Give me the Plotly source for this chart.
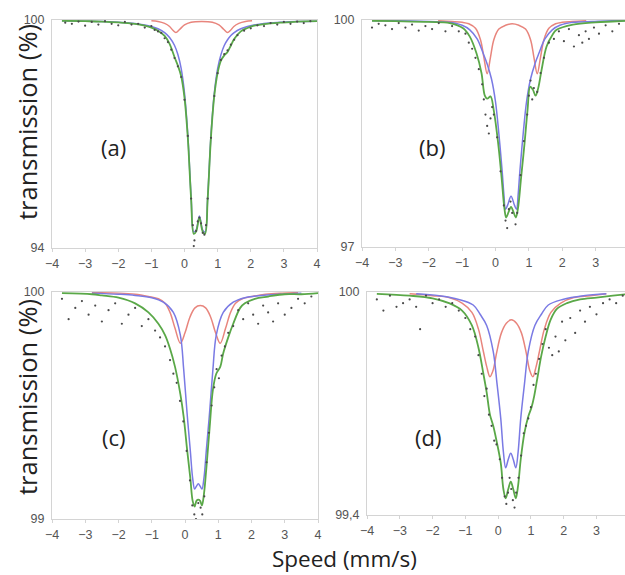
import plotly.graph_objects as go

# ---------------- data ----------------
# Panel (a)
A_FIT_X = [-3.7, -3, -2.5, -2, -1.5, -1.2, -1.0, -0.8, -0.6, -0.45, -0.3, -0.2, -0.1, 0, 0.1, 0.2, 0.28, 0.35, 0.45,
           0.55, 0.62, 0.7, 0.8, 0.9, 1.0, 1.1, 1.2, 1.3, 1.4, 1.5, 1.7, 1.9, 2.1, 2.4, 2.9, 3.4, 4]
A_GREEN = [99.98, 99.97, 99.96, 99.94, 99.90, 99.85, 99.80, 99.72, 99.58, 99.37, 99.02, 98.80, 98.52, 97.95, 96.90,
           95.29, 94.37, 94.43, 94.80, 94.43, 94.38, 95.30, 96.93, 98.01, 98.61, 98.93, 99.07, 99.16, 99.33, 99.50,
           99.70, 99.79, 99.85, 99.89, 99.93, 99.96, 99.97]
A_BLUE = [99.98, 99.97, 99.96, 99.94, 99.91, 99.87, 99.83, 99.77, 99.67, 99.54, 99.33, 99.09, 98.72, 98.08, 96.98,
          95.35, 94.42, 94.47, 94.84, 94.47, 94.42, 95.35, 96.98, 98.08, 98.72, 99.09, 99.33, 99.48, 99.59, 99.67,
          99.77, 99.83, 99.87, 99.91, 99.94, 99.96, 99.97]
A_RED_X = [-1.0, -0.8, -0.6, -0.45, -0.35, -0.26, -0.15, 0.0, 0.2, 0.52, 0.84, 1.04, 1.19, 1.30, 1.39, 1.49, 1.64,
           1.84, 2.04]
A_RED = [99.98, 99.96, 99.91, 99.83, 99.73, 99.67, 99.75, 99.87, 99.94, 99.96, 99.94, 99.87, 99.75, 99.67, 99.73,
         99.83, 99.91, 99.96, 99.98]
A_DOT_X = [-3.6, -3.4, -3.2, -3.0, -2.8, -2.6, -2.4, -2.2, -2.0, -1.8, -1.6, -1.4, -1.2, -1.0, -0.9, -0.8, -0.7, -0.6,
           -0.5, -0.4, -0.3, -0.2, -0.1, 0.0, 0.1, 0.2, 0.25, 0.28, 0.3, 0.35, 0.4, 0.45, 0.5, 0.55, 0.6, 0.65, 0.7,
           0.8, 0.9, 1.0, 1.1, 1.2, 1.3, 1.4, 1.5, 1.6, 1.8, 2.0, 2.2, 2.4, 2.6, 2.8, 3.0, 3.2, 3.4, 3.6, 3.8]
A_DOT_Y = [99.93, 99.9, 99.96, 99.85, 99.95, 99.88, 99.97, 99.9, 99.86, 99.95, 99.88, 99.9, 99.8, 99.84, 99.74, 99.7,
           99.66, 99.52, 99.42, 99.22, 99.0, 98.78, 98.5, 97.9, 96.95, 95.3, 94.6, 94.05, 94.2, 94.45, 94.7, 94.8,
           94.65, 94.4, 94.35, 94.6, 95.3, 96.9, 98.0, 98.6, 98.95, 99.1, 99.2, 99.35, 99.48, 99.6, 99.72, 99.78,
           99.86, 99.84, 99.92, 99.88, 99.95, 99.9, 99.96, 99.92, 99.97]

# Panel (b)
B_FIT_X = [-3.7, -3, -2, -1.37, -0.97, -0.77, -0.57, -0.42, -0.32, -0.25, -0.15, -0.05, 0.08, 0.18, 0.27, 0.32, 0.39,
           0.465, 0.54, 0.61, 0.67, 0.77, 0.87, 0.96, 1.04, 1.12, 1.2, 1.28, 1.38, 1.53, 1.7, 1.83, 2.32, 3, 3.5, 4]
B_GREEN = [99.99, 99.985, 99.975, 99.96, 99.89, 99.78, 99.56, 99.30, 99.0, 98.96, 98.99, 98.8, 98.37, 97.93, 97.5,
           97.39, 97.46, 97.53, 97.46, 97.39, 97.5, 97.93, 98.37, 98.81, 99.12, 99.08, 99.0, 99.1, 99.34, 99.65, 99.8,
           99.87, 99.94, 99.97, 99.98, 99.99]
B_BLUE_X = [-3.7, -3, -2, -1.4, -1.0, -0.77, -0.55, -0.37, -0.25, -0.12, 0.0, 0.1, 0.2, 0.25, 0.3, 0.36, 0.465, 0.57,
            0.63, 0.68, 0.73, 0.83, 0.93, 1.05, 1.18, 1.3, 1.48, 1.7, 1.93, 2.33, 2.9, 3.5, 4]
B_BLUE = [99.99, 99.99, 99.98, 99.97, 99.93, 99.87, 99.75, 99.56, 99.42, 99.22, 98.92, 98.5, 98.0, 97.7, 97.5, 97.55,
          97.67, 97.55, 97.5, 97.7, 98.0, 98.5, 98.92, 99.22, 99.42, 99.56, 99.75, 99.87, 99.93, 99.97, 99.98, 99.99,
          99.99]
B_RED_X = [-1.72, -1.3, -1.0, -0.8, -0.6, -0.45, -0.35, -0.25, -0.15, -0.05, 0.1, 0.3, 0.5, 0.7, 0.9, 1.05, 1.15,
           1.25, 1.35, 1.45, 1.6, 1.8, 2.0, 2.3, 2.72]
B_RED = [99.99, 99.98, 99.97, 99.95, 99.89, 99.74, 99.51, 99.29, 99.51, 99.74, 99.88, 99.93, 99.95, 99.93, 99.88,
         99.74, 99.51, 99.29, 99.51, 99.74, 99.89, 99.95, 99.97, 99.98, 99.99]
B_DOT_X = [-3.7, -3.5, -3.3, -3.1, -2.9, -2.7, -2.5, -2.3, -2.1, -1.9, -1.7, -1.5, -1.3, -1.1, -0.9, -0.8, -0.7, -0.6,
           -0.5, -0.4, -0.35, -0.3, -0.25, -0.2, -0.15, -0.1, -0.05, 0.05, 0.15, 0.25, 0.3, 0.35, 0.4, 0.45, 0.5, 0.6,
           0.65, 0.75, 0.85, 0.95, 1.0, 1.05, 1.1, 1.15, 1.25, 1.35, 1.45, 1.6, 1.75, 1.9, 2.05, 2.2, 2.35, 2.5, 2.6,
           2.7, 2.8, 2.95, 3.1, 3.3, 3.5, 3.7]
B_DOT_Y = [99.9, 99.95, 99.93, 99.88, 99.96, 99.9, 99.94, 99.86, 99.92, 99.88, 99.96, 99.85, 99.92, 99.85, 99.82,
           99.7, 99.62, 99.5, 99.35, 99.15, 98.95, 98.75, 98.6, 98.5, 98.7, 98.85, 98.75, 98.45, 98.0, 97.55, 97.35,
           97.25, 97.5, 97.6, 97.45, 97.3, 97.45, 97.95, 98.4, 98.75, 99.0, 99.2, 98.95, 99.1, 99.05, 99.3, 99.5, 99.7,
           99.75, 99.85, 99.72, 99.88, 99.65, 99.8, 99.7, 99.85, 99.75, 99.9, 99.82, 99.93, 99.85, 99.95]

# Panel (c)
C_FIT_X = [-3.7, -2.8, -2.5, -2, -1.5, -1.1, -0.8, -0.6, -0.45, -0.3, -0.14, -0.04, 0.06, 0.16, 0.23, 0.29, 0.345,
           0.40, 0.455, 0.51, 0.57, 0.64, 0.74, 0.84, 0.94, 1.06, 1.15, 1.3, 1.45, 1.66, 1.8, 2.1, 2.5, 3, 3.5, 4]
C_GREEN = [99.995, 99.99, 99.985, 99.975, 99.95, 99.91, 99.86, 99.81, 99.75, 99.67, 99.55, 99.45, 99.31, 99.18,
           99.08, 99.055, 99.08, 99.085, 99.08, 99.06, 99.11, 99.22, 99.40, 99.57, 99.64, 99.67, 99.73, 99.80, 99.86,
           99.93, 99.95, 99.97, 99.98, 99.99, 99.99, 99.995]
C_BLUE_X = [-2.8, -2.0, -1.5, -1.0, -0.65, -0.35, -0.14, -0.04, 0.06, 0.16, 0.23, 0.29, 0.345, 0.40, 0.455, 0.51,
            0.57, 0.64, 0.74, 0.84, 0.94, 1.15, 1.45, 1.8, 2.3, 2.8, 3.5]
C_BLUE = [99.995, 99.99, 99.985, 99.975, 99.955, 99.91, 99.81, 99.66, 99.47, 99.30, 99.18, 99.132, 99.145, 99.155,
          99.145, 99.132, 99.18, 99.30, 99.47, 99.66, 99.81, 99.91, 99.955, 99.975, 99.985, 99.99, 99.995]
C_RED_X = [-2.8, -2.0, -1.5, -1.1, -0.8, -0.6, -0.45, -0.3, -0.14, 0.0, 0.15, 0.3, 0.46, 0.62, 0.77, 0.92, 1.06,
           1.22, 1.37, 1.52, 1.72, 2.02, 2.42, 2.92, 3.4]
C_RED = [99.997, 99.995, 99.99, 99.98, 99.97, 99.95, 99.91, 99.84, 99.774, 99.82, 99.89, 99.93, 99.94, 99.93, 99.89,
         99.82, 99.774, 99.84, 99.91, 99.95, 99.97, 99.98, 99.99, 99.995, 99.997]
C_DOT_X = [-3.7, -3.5, -3.3, -3.1, -2.9, -2.7, -2.5, -2.3, -2.1, -1.9, -1.7, -1.5, -1.3, -1.1, -0.9, -0.75, -0.6,
           -0.45, -0.35, -0.25, -0.15, -0.05, 0.05, 0.15, 0.22, 0.28, 0.33, 0.4, 0.47, 0.52, 0.58, 0.65, 0.72, 0.8,
           0.88, 0.95, 1.02, 1.1, 1.2, 1.3, 1.45, 1.6, 1.75, 1.9, 2.05, 2.2, 2.35, 2.5, 2.65, 2.8, 3.0, 3.2, 3.4, 3.6,
           3.8]
C_DOT_Y = [99.97, 99.88, 99.93, 99.96, 99.9, 99.94, 99.87, 99.92, 99.95, 99.86, 99.9, 99.93, 99.85, 99.88, 99.83,
           99.8, 99.76, 99.7, 99.64, 99.6, 99.52, 99.43, 99.3, 99.17, 99.06, 99.02, 99.0, 99.07, 99.05, 99.02, 99.1,
           99.25, 99.38, 99.5, 99.58, 99.66, 99.62, 99.72, 99.76, 99.82, 99.85, 99.92, 99.88, 99.95, 99.9, 99.86,
           99.94, 99.91, 99.87, 99.95, 99.9, 99.93, 99.97, 99.95, 99.98]

# Panel (d)
D_FIT_X = [-3.7, -2.7, -2, -1.5, -1.1, -0.8, -0.6, -0.45, -0.35, -0.25, -0.15, -0.05, 0.08, 0.16, 0.23, 0.31, 0.385,
           0.46, 0.54, 0.61, 0.69, 0.8, 0.92, 1.02, 1.1, 1.2, 1.32, 1.45, 1.6, 1.8, 2.1, 2.5, 3, 3.5, 4]
D_GREEN = [99.995, 99.99, 99.983, 99.97, 99.95, 99.91, 99.85, 99.78, 99.73, 99.67, 99.64, 99.6, 99.54, 99.47, 99.445,
           99.47, 99.49, 99.47, 99.445, 99.48, 99.55, 99.62, 99.665, 99.69, 99.72, 99.77, 99.83, 99.88, 99.925,
           99.955, 99.97, 99.98, 99.985, 99.99, 99.995]
D_BLUE_X = [-2.5, -1.8, -1.2, -0.76, -0.55, -0.35, -0.15, -0.03, 0.08, 0.16, 0.23, 0.31, 0.385, 0.46, 0.54, 0.61,
            0.69, 0.80, 0.92, 1.12, 1.32, 1.53, 1.97, 2.6, 3.3]
D_BLUE = [99.995, 99.99, 99.98, 99.965, 99.94, 99.91, 99.84, 99.75, 99.66, 99.57, 99.527, 99.55, 99.566, 99.55,
          99.527, 99.57, 99.66, 99.75, 99.84, 99.91, 99.94, 99.965, 99.98, 99.99, 99.995]
D_RED_X = [-2.7, -2.0, -1.5, -1.1, -0.8, -0.6, -0.45, -0.35, -0.25, -0.15, -0.05, 0.1, 0.25, 0.405, 0.56, 0.71, 0.86,
           0.96, 1.06, 1.16, 1.26, 1.41, 1.61, 1.91, 2.31, 2.81, 3.3]
D_RED = [99.995, 99.99, 99.985, 99.97, 99.945, 99.9, 99.84, 99.8, 99.772, 99.79, 99.835, 99.89, 99.916, 99.925,
         99.916, 99.89, 99.835, 99.79, 99.772, 99.8, 99.84, 99.9, 99.945, 99.97, 99.985, 99.99, 99.995]
D_DOT_X = [-3.7, -3.5, -3.3, -3.1, -2.9, -2.7, -2.5, -2.38, -2.2, -2.0, -1.8, -1.6, -1.4, -1.2, -1.0, -0.85, -0.7,
           -0.6, -0.5, -0.42, -0.35, -0.28, -0.2, -0.12, -0.05, 0.05, 0.12, 0.2, 0.25, 0.3, 0.35, 0.4, 0.45, 0.5, 0.55,
           0.62, 0.7, 0.78, 0.85, 0.92, 1.0, 1.08, 1.15, 1.25, 1.35, 1.45, 1.55, 1.65, 1.75, 1.85, 1.95, 2.05, 2.2,
           2.35, 2.5, 2.65, 2.8, 3.0, 3.2, 3.4, 3.6, 3.8]
D_DOT_Y = [99.98, 99.95, 99.99, 99.96, 99.97, 99.98, 99.96, 99.9, 99.99, 99.97, 99.98, 99.96, 99.97, 99.95, 99.93,
           99.9, 99.88, 99.83, 99.78, 99.72, 99.74, 99.67, 99.64, 99.6, 99.59, 99.55, 99.5, 99.45, 99.43, 99.46, 99.5,
           99.47, 99.44, 99.42, 99.46, 99.5, 99.56, 99.62, 99.64, 99.66, 99.69, 99.75, 99.78, 99.82, 99.86, 99.9,
           99.85, 99.83, 99.88, 99.84, 99.92, 99.87, 99.93, 99.89, 99.95, 99.92, 99.96, 99.94, 99.97, 99.98, 99.97,
           99.99]

X_TICKS = [-4, -3, -2, -1, 0, 1, 2, 3, 4]
PANEL_LABELS = ["(a)", "(b)", "(c)", "(d)"]
Y_RANGES = [[94, 100], [97, 100], [99, 100], [99.4, 100]]
Y_TICKTEXT = [["94", "100"], ["97", "100"], ["99", "100"], ["99,4", "100"]]
Y_TITLE = "transmission (%)"
X_TITLE = "Speed (mm/s)"

# ---------------- figure ----------------
GREEN = "#5aa848"
BLUE = "#7a7ae4"
RED = "#e8857d"
DOT = "#4a4a4a"
AXC = "#d4d4d4"
TICKFONT = dict(family="Liberation Sans Narrow, Liberation Sans, Arial", size=12.5, color="#555555")

panels = [
    (A_FIT_X, A_GREEN, A_FIT_X, A_BLUE, A_RED_X, A_RED, A_DOT_X, A_DOT_Y),
    (B_FIT_X, B_GREEN, B_BLUE_X, B_BLUE, B_RED_X, B_RED, B_DOT_X, B_DOT_Y),
    (C_FIT_X, C_GREEN, C_BLUE_X, C_BLUE, C_RED_X, C_RED, C_DOT_X, C_DOT_Y),
    (D_FIT_X, D_GREEN, D_BLUE_X, D_BLUE, D_RED_X, D_RED, D_DOT_X, D_DOT_Y),
]

# layout geometry (paper fractions)
X_DOMAINS = [[0.0832, 0.5072], [0.5792, 1.0], [0.0832, 0.5088], [0.5872, 1.0]]
Y_DOMAINS = [[0.5687, 0.9652], [0.5704, 0.9652], [0.0974, 0.4922], [0.1043, 0.4922]]
X_RANGES = [[-4, 4], [-4, 3.88], [-4, 4], [-4, 3.87]]
LABEL_POS = [(-2.13, 96.66), (-1.9, 98.32), (-2.15, 99.36), (-2.14, 99.61)]

fig = go.Figure()
layout = dict(
    width=625, height=575, margin=dict(l=0, r=0, t=0, b=0, pad=0, autoexpand=False),
    paper_bgcolor="white", plot_bgcolor="white", showlegend=False,
    annotations=[],
)

for i, (fx, g, bx, b, rx, r, dx, dy) in enumerate(panels):
    sfx = "" if i == 0 else str(i + 1)
    xa, ya = "x" + sfx, "y" + sfx
    fig.add_trace(go.Scatter(x=rx, y=r, mode="lines", line=dict(color=RED, width=1.5, shape="spline"),
                             xaxis=xa, yaxis=ya, hoverinfo="skip"))
    fig.add_trace(go.Scatter(x=bx, y=b, mode="lines", line=dict(color=BLUE, width=1.5, shape="spline"),
                             xaxis=xa, yaxis=ya, hoverinfo="skip"))
    fig.add_trace(go.Scatter(x=fx, y=g, mode="lines", line=dict(color=GREEN, width=1.8, shape="spline"),
                             xaxis=xa, yaxis=ya, hoverinfo="skip"))
    fig.add_trace(go.Scatter(x=dx, y=dy, mode="markers", marker=dict(color=DOT, size=2.2),
                             xaxis=xa, yaxis=ya, hoverinfo="skip", cliponaxis=False))
    right_cut = i in (1, 3)
    layout["xaxis" + sfx] = dict(
        domain=X_DOMAINS[i], range=X_RANGES[i], anchor=ya, tickvals=X_TICKS, automargin=False,
        showline=True, linecolor=AXC, linewidth=1, mirror=True,
        ticks="outside", ticklen=3, tickcolor=AXC, tickfont=TICKFONT, ticklabelstandoff=1,
        showgrid=False, zeroline=False, fixedrange=True,
    )
    layout["yaxis" + sfx] = dict(
        domain=Y_DOMAINS[i], range=Y_RANGES[i], anchor=xa, automargin=False,
        tickvals=Y_RANGES[i], ticktext=Y_TICKTEXT[i],
        showline=True, linecolor=AXC, linewidth=1, mirror=not right_cut,
        ticks="", tickfont=TICKFONT, ticklabelstandoff=4,
        showgrid=False, zeroline=False, fixedrange=True,
    )
    layout["annotations"].append(dict(
        x=LABEL_POS[i][0], y=LABEL_POS[i][1], xref=xa, yref=ya, text=PANEL_LABELS[i], showarrow=False,
        font=dict(family="Open Sans, Arial", size=22, color="#222222"), xanchor="center", yanchor="middle",
    ))

# axis titles
for ycen in (122, 397):
    layout["annotations"].append(dict(
        x=27 / 625, y=1 - ycen / 575, xref="paper", yref="paper", text=Y_TITLE, showarrow=False, textangle=-90,
        font=dict(family="Open Sans, Arial", size=25.5, color="#222222"), xanchor="center", yanchor="middle",
    ))
layout["annotations"].append(dict(
    x=344 / 625, y=1 - 558.5 / 575, xref="paper", yref="paper", text=X_TITLE, showarrow=False,
    font=dict(family="Open Sans, Arial", size=22.5, color="#222222"), xanchor="center", yanchor="middle",
))

fig.update_layout(**layout)
fig.write_html(
    "out.html",
    config={"displayModeBar": False},
    post_script="document.body.style.margin='0';document.body.style.padding='0';",
)
